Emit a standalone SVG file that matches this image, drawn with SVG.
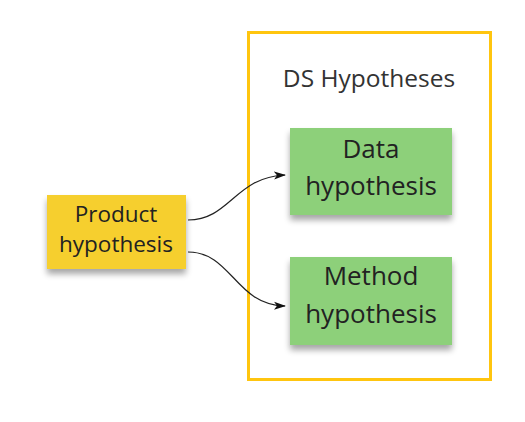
<svg xmlns="http://www.w3.org/2000/svg" width="525" height="422" viewBox="0 0 525 422">
<style>
.t{font-family:"Open Sans","Noto Sans",sans-serif;fill:#222;text-anchor:middle}
.p{font-size:22.5px}
.g{font-size:26px}
.c{fill:none;stroke:#222;stroke-width:1.2}
</style>
<defs>
<marker id="ah" markerWidth="12" markerHeight="10" refX="11" refY="5" orient="auto" markerUnits="userSpaceOnUse">
<path d="M0,1 L12,5 L0,9 L3,5 Z" fill="#111"/>
</marker>
<filter id="sh" x="-20%" y="-20%" width="140%" height="160%">
<feGaussianBlur in="SourceAlpha" stdDeviation="3"/>
<feOffset dx="0" dy="5"/>
<feComponentTransfer><feFuncA type="linear" slope="0.35"/></feComponentTransfer>
<feMerge><feMergeNode/><feMergeNode in="SourceGraphic"/></feMerge>
</filter>
</defs>
<rect width="525" height="422" fill="#fff"/>
<g id="container">
<rect x="248.5" y="32.5" width="242" height="347" fill="none" stroke="#FFC50F" stroke-width="3"/>
<text class="t" x="369" y="87" style="font-size:24.5px;fill:#333">DS Hypotheses</text>
</g>
<g id="connectors">
<path class="c" d="M188,220 C230,220 235,177 285,175" marker-end="url(#ah)"/>
<path class="c" d="M188,252 C232,252 235,305 285,306" marker-end="url(#ah)"/>
</g>
<g id="product">
<rect x="47" y="195" width="139" height="74" fill="#F6CF2D" filter="url(#sh)"/>
<text class="t p" x="116" y="222">Product</text>
<text class="t p" x="116" y="252">hypothesis</text>
</g>
<g id="data">
<rect x="290" y="128" width="162" height="87" fill="#8DD07A" filter="url(#sh)"/>
<text class="t g" x="371" y="158">Data</text>
<text class="t g" x="371" y="195">hypothesis</text>
</g>
<g id="method">
<rect x="290" y="257" width="162" height="88" fill="#8DD07A" filter="url(#sh)"/>
<text class="t g" x="371" y="285">Method</text>
<text class="t g" x="371" y="323">hypothesis</text>
</g>
</svg>
